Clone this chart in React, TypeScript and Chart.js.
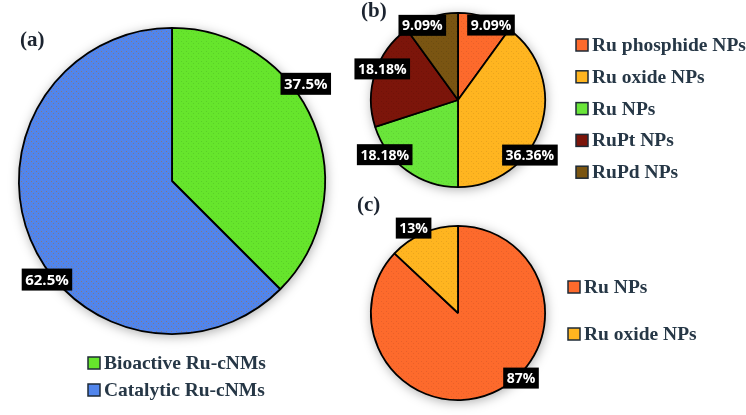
import React, { useEffect, useRef } from "react";
import { Chart, registerables } from "chart.js";

Chart.register(...registerables);

const aLabels = ["Bioactive Ru-cNMs", "Catalytic Ru-cNMs"];
const aValues = [37.5, 62.5];
const aColors = ["#66e52c", "#5185ec"];

const bLabels = ["Ru phosphide NPs", "Ru oxide NPs", "Ru NPs", "RuPt NPs", "RuPd NPs"];
const bValues = [9.09, 36.36, 18.18, 18.18, 9.09];
const bColors = ["#fd6a2c", "#ffb520", "#6ae63a", "#7c150a", "#7a5512"];

const cLabels = ["Ru NPs", "Ru oxide NPs"];
const cValues = [87, 13];
const cColors = ["#fd6a2c", "#ffb520"];

// label placement: [fraction along slice, radius factor]
const aLabelPos = [[0.4, 1.08], [0.43, 1.04]];
const bLabelPos = [[0.66, 0.94], [0.635, 1.04], [0.74, 1.05], [0.56, 0.94], [0.29, 0.95]];
const cLabelPos = [[0.434, 1.04], [0.41, 1.1]];

const W = 746;
const H = 415;

function texture(color: string, dot: string) {
  const c = document.createElement("canvas");
  c.width = 5;
  c.height = 5;
  const x = c.getContext("2d")!;
  x.fillStyle = color;
  x.fillRect(0, 0, 5, 5);
  x.fillStyle = dot;
  x.fillRect(1, 1, 1, 1);
  x.fillRect(3, 3, 1, 1);
  return x.createPattern(c, "repeat");
}

const piePlugin = {
  id: "pieExtras",
  beforeDatasetsDraw(chart: any) {
    const meta = chart.getDatasetMeta(0);
    const arc = meta.data[0];
    if (!arc) return;
    const ctx = chart.ctx;
    ctx.save();
    ctx.shadowColor = "rgba(0,0,0,0.35)";
    ctx.shadowBlur = 12;
    ctx.shadowOffsetX = 1;
    ctx.shadowOffsetY = 2;
    ctx.fillStyle = "#ffffff";
    ctx.beginPath();
    ctx.arc(arc.x, arc.y, arc.outerRadius, 0, Math.PI * 2);
    ctx.fill();
    ctx.restore();
  },
  afterDatasetsDraw(chart: any, _args: any, opts: any) {
    const ctx = chart.ctx;
    const meta = chart.getDatasetMeta(0);
    const values = chart.data.datasets[0].data;
    ctx.save();
    ctx.font = `bold ${opts.labelSize}px "Open Sans", sans-serif`;
    ctx.textAlign = "center";
    ctx.textBaseline = "middle";
    meta.data.forEach((el: any, i: number) => {
      const [frac, fac] = opts.labelPos[i];
      const ang = el.startAngle + frac * (el.endAngle - el.startAngle);
      const r = el.outerRadius * fac;
      const x = el.x + Math.cos(ang) * r;
      const y = el.y + Math.sin(ang) * r;
      const text = `${values[i]}%`;
      const tw = ctx.measureText(text).width;
      const bw = tw + 7;
      const bh = opts.labelSize + 7;
      ctx.fillStyle = "#000000";
      ctx.fillRect(x - bw / 2, y - bh / 2, bw, bh);
      ctx.fillStyle = "#ffffff";
      ctx.fillText(text, x, y + 1);
    });
    // legend
    ctx.font = `bold ${opts.legendSize}px "Liberation Serif", "Times New Roman", serif`;
    ctx.textAlign = "left";
    ctx.textBaseline = "middle";
    const labels = chart.data.labels;
    const colors = opts.legendColors;
    labels.forEach((lab: string, i: number) => {
      const y = opts.legendY + i * opts.legendGap;
      const x = opts.legendX;
      ctx.fillStyle = colors[i];
      ctx.fillRect(x, y - 6, 12, 12);
      ctx.strokeStyle = "#1e2a36";
      ctx.lineWidth = 1.5;
      ctx.strokeRect(x, y - 6, 12, 12);
      ctx.fillStyle = "#263746";
      ctx.fillText(lab, x + 16, y + 1);
    });
    // panel letter
    ctx.font = `bold 21px "Liberation Serif", "Times New Roman", serif`;
    ctx.fillStyle = "#1c2430";
    ctx.textAlign = "left";
    ctx.fillText(opts.panel, opts.panelX, opts.panelY);
    ctx.restore();
  },
};

function makeConfig(labels: string[], values: number[], colors: string[], dots: string[], padding: any, extras: any) {
  return {
    type: "pie" as const,
    data: {
      labels,
      datasets: [
        {
          data: values,
          backgroundColor: colors.map((c, i) => texture(c, dots[i])),
          borderColor: "#000000",
          borderWidth: 1.8,
        },
      ],
    },
    options: {
      responsive: false,
      animation: false as const,
      layout: { padding },
      plugins: {
        legend: { display: false },
        tooltip: { enabled: false },
        pieExtras: { ...extras, legendColors: colors },
      },
    },
    plugins: [piePlugin],
  };
}

function PieCanvas({ make }: { make: () => any }) {
  const ref = useRef<HTMLCanvasElement | null>(null);
  useEffect(() => {
    if (!ref.current) return;
    const chart = new Chart(ref.current, make());
    return () => chart.destroy();
  }, [make]);
  return (
    <canvas
      ref={ref}
      width={W}
      height={H}
      style={{ position: "absolute", left: 0, top: 0, width: W, height: H }}
    />
  );
}

const makeA = () =>
  makeConfig(aLabels, aValues, aColors, ["#5bcf28", "#7f7a8a"], { left: 18, top: 27, right: W - 326, bottom: H - 335 }, {
    labelPos: aLabelPos, labelSize: 15, legendX: 88, legendY: 363, legendGap: 27, legendSize: 19.5,
    panel: "(a)", panelX: 20, panelY: 41,
  });
const makeB = () =>
  makeConfig(bLabels, bValues, bColors, ["#e8602a", "#eaa51e", "#60d235", "#701208", "#6c4c10"], { left: 370, top: 12, right: W - 546, bottom: H - 188 }, {
    labelPos: bLabelPos, labelSize: 14, legendX: 576, legendY: 45, legendGap: 31.8, legendSize: 19.5,
    panel: "(b)", panelX: 361, panelY: 12,
  });
const makeC = () =>
  makeConfig(cLabels, cValues, cColors, ["#e8602a", "#eaa51e"], { left: 370, top: 225, right: W - 546, bottom: H - 401 }, {
    labelPos: cLabelPos, labelSize: 14, legendX: 568, legendY: 287, legendGap: 47, legendSize: 19.5,
    panel: "(c)", panelX: 357, panelY: 206,
  });

export default function App() {
  useEffect(() => {
    document.body.style.margin = "0";
    document.body.style.background = "#ffffff";
  }, []);
  return (
    <div style={{ position: "relative", width: W, height: H, background: "#ffffff" }}>
      <PieCanvas make={makeA} />
      <PieCanvas make={makeB} />
      <PieCanvas make={makeC} />
    </div>
  );
}
